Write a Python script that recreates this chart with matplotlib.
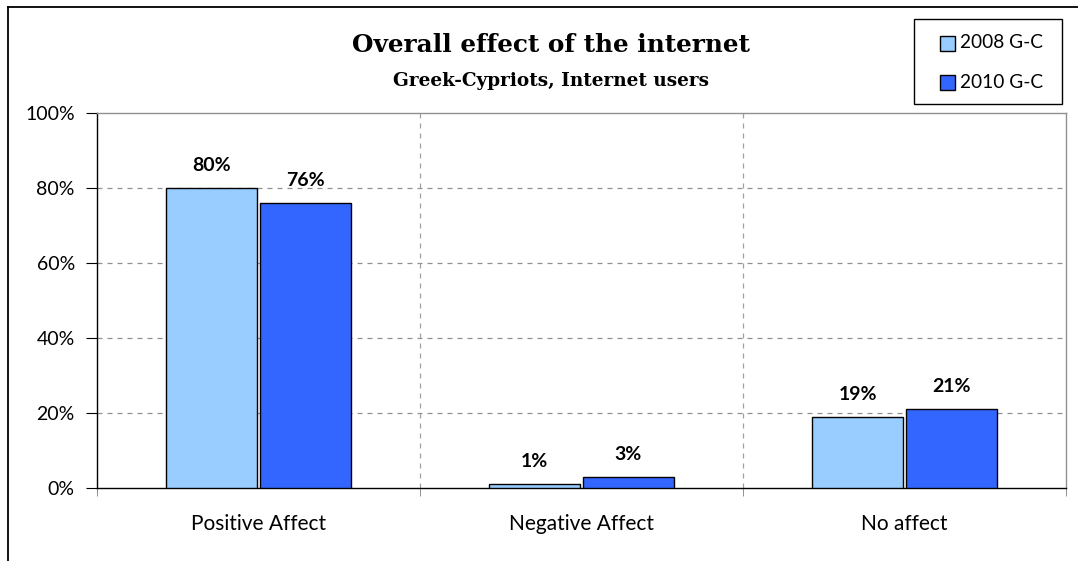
import matplotlib
matplotlib.use("Agg")
import matplotlib.pyplot as plt
from matplotlib.patches import Rectangle
from matplotlib.lines import Line2D
import numpy as np

categories = ["Positive Affect", "Negative Affect", "No affect"]
series_names = ["2008 G-C", "2010 G-C"]
values_2008 = [80, 1, 19]
values_2010 = [76, 3, 21]
y_ticks = [0, 20, 40, 60, 80, 100]
y_tick_labels = ["0%", "20%", "40%", "60%", "80%", "100%"]

colors = ["#99CCFF", "#3366FF"]
W, H = 1078, 561
fig = plt.figure(figsize=(W / 100, H / 100), dpi=100)
LAB = "Lato"

# outer chart frame (left and top visible)
fig.add_artist(Line2D([8 / W, 8 / W], [0, 1 - 7 / H], color="black", lw=1.3, transform=fig.transFigure))
fig.add_artist(Line2D([8 / W, 1], [1 - 7 / H, 1 - 7 / H], color="black", lw=1.3, transform=fig.transFigure))

ax = fig.add_axes([97 / W, 1 - 488 / H, 969 / W, 375 / H])
x = np.arange(len(categories))
bw = 0.28
off = 0.145
b1 = ax.bar(x - off, values_2008, bw, color=colors[0], edgecolor="black", linewidth=1.0, zorder=3)
b2 = ax.bar(x + off, values_2010, bw, color=colors[1], edgecolor="black", linewidth=1.0, zorder=3)

for bars, vals in ((b1, values_2008), (b2, values_2010)):
    for r, v in zip(bars, vals):
        ax.annotate(f"{v}%", (r.get_x() + r.get_width() / 2, v), xytext=(0, 10),
                    textcoords="offset points", ha="center", va="bottom",
                    fontsize=14, fontweight="bold", family=LAB)

ax.set_xlim(-0.5, len(categories) - 0.5)
ax.set_ylim(0, 100)
ax.set_yticks(y_ticks)
ax.set_yticklabels(y_tick_labels, family=LAB, fontsize=14)
ax.set_xticks(x)
ax.set_xticklabels(categories, family=LAB, fontsize=15)
ax.tick_params(axis="x", length=0, pad=19)
ax.set_xticks(np.arange(-0.5, len(categories), 1), minor=True)
ax.tick_params(axis="x", which="minor", length=6, direction="out", color="#808080")
ax.tick_params(axis="y", length=8, direction="out", color="black", pad=8)

for yv in y_ticks[1:-1]:
    ax.axhline(yv, color="#909090", lw=0.9, ls=(0, (4, 4)), zorder=1)
for xv in np.arange(0.5, len(categories) - 1, 1):
    ax.axvline(xv, color="#A0A0A0", lw=0.9, ls=(0, (4, 4)), zorder=1)

ax.spines["left"].set_color("black")
ax.spines["bottom"].set_color("black")
ax.spines["top"].set_color("#909090")
ax.spines["right"].set_color("#909090")
for s in ax.spines.values():
    s.set_linewidth(1.0)

fig.text(551 / W, 1 - 45 / H, "Overall effect of the internet", ha="center", va="center",
         fontsize=17.8, fontweight="bold", family="DejaVu Serif")
fig.text(551 / W, 1 - 81 / H, "Greek-Cypriots, Internet users", ha="center", va="center",
         fontsize=13.3, fontweight="bold", family="DejaVu Serif")

# legend box
fig.add_artist(Rectangle((914 / W, 1 - 104 / H), 148 / W, 85 / H, transform=fig.transFigure,
                         facecolor="white", edgecolor="black", linewidth=1.0))
for i, (name, c) in enumerate(zip(series_names, colors)):
    yc = 43 + i * 39
    fig.add_artist(Rectangle((940 / W, 1 - (yc + 7.5) / H), 15 / W, 15 / H, transform=fig.transFigure,
                             facecolor=c, edgecolor="black", linewidth=1.0))
    fig.text(960 / W, 1 - yc / H, name, ha="left", va="center", fontsize=13.8, family=LAB)

fig.savefig("out.png", dpi=100)
